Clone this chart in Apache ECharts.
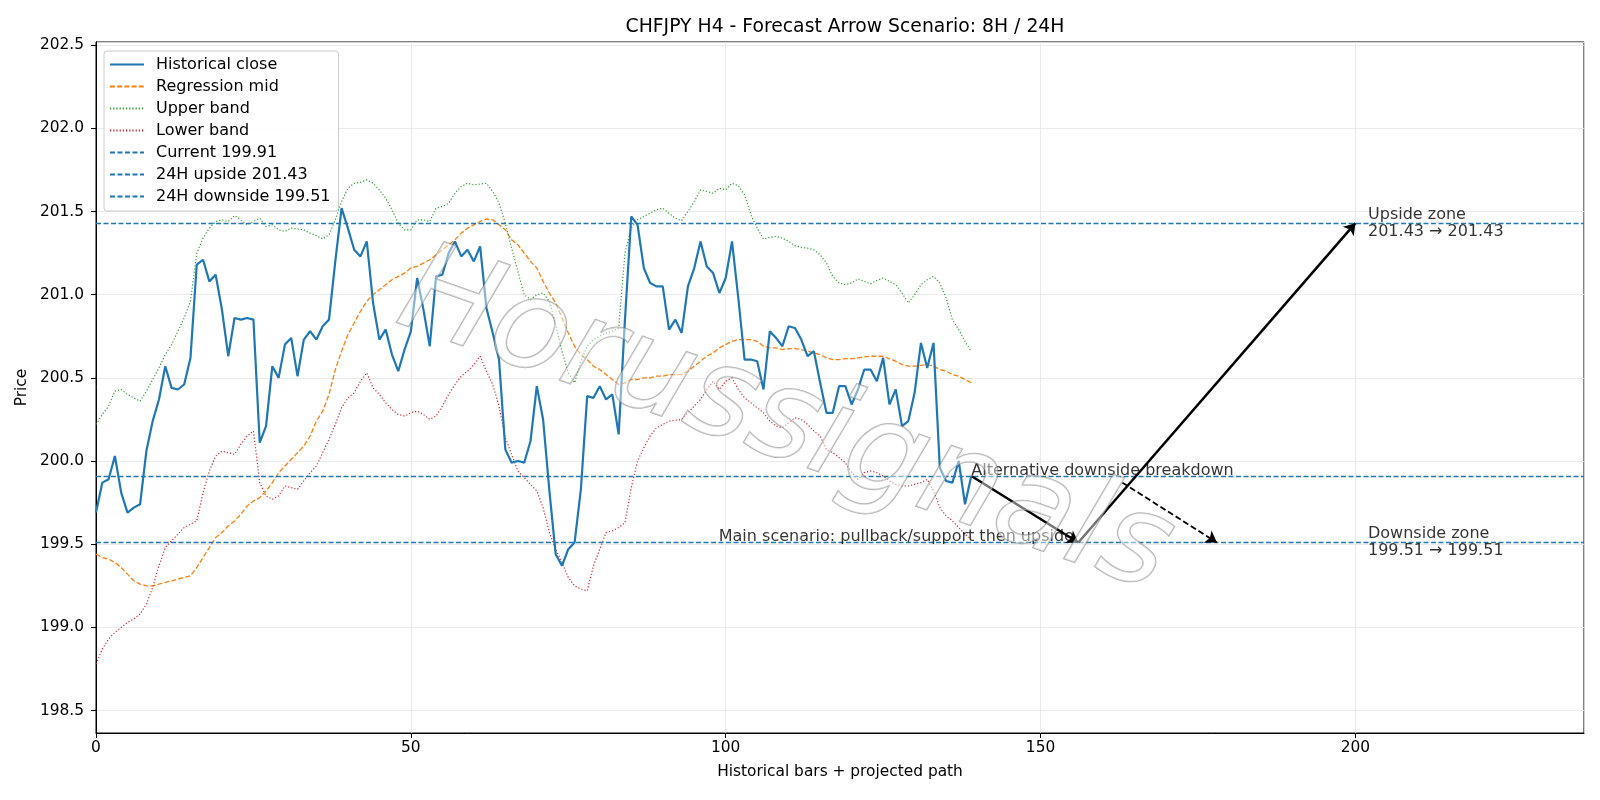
<!DOCTYPE html>
<html>
<head>
  <meta charset="utf-8" />
  <title>CHFJPY H4 - Forecast Arrow Scenario</title>
  <style>
    html, body { margin: 0; padding: 0; background: #fff; }
    #chartBox { width: 1600px; height: 800px; }
  </style>
</head>
<body>
  <div id="chartBox"></div>
  <script src="https://cdn.jsdelivr.net/npm/echarts@6/dist/echarts.min.js"></script>
  <script>
    // historical close, 140 H4 bars
    var closeArr = [
      199.69, 199.87, 199.89, 200.03, 199.81, 199.69, 199.72, 199.74, 200.06, 200.24,
      200.37, 200.57, 200.44, 200.43, 200.46, 200.62, 201.18, 201.21, 201.08, 201.12,
      200.91, 200.63, 200.86, 200.85, 200.86, 200.85, 200.11, 200.21, 200.57, 200.50,
      200.70, 200.74, 200.51, 200.73, 200.78, 200.73, 200.81, 200.85, 201.20, 201.52,
      201.40, 201.27, 201.23, 201.32, 200.95, 200.73, 200.79, 200.64, 200.54, 200.67,
      200.78, 201.10, 200.91, 200.69, 201.11, 201.12, 201.25, 201.32, 201.23, 201.27,
      201.20, 201.29, 200.92, 200.77, 200.61, 200.07, 199.99, 200.00, 199.99, 200.12,
      200.45, 200.25, 199.82, 199.44, 199.37, 199.47, 199.51, 199.83, 200.39, 200.38,
      200.45, 200.37, 200.40, 200.16, 200.85, 201.47, 201.42, 201.16, 201.07, 201.05,
      201.05, 200.79, 200.85, 200.77, 201.05, 201.16, 201.32, 201.17, 201.13, 201.01,
      201.10, 201.32, 200.98, 200.61, 200.61, 200.60, 200.43, 200.78, 200.74, 200.69,
      200.81, 200.80, 200.73, 200.63, 200.66, 200.47, 200.29, 200.29, 200.45, 200.45,
      200.34, 200.43, 200.55, 200.55, 200.48, 200.62, 200.34, 200.43, 200.21, 200.24,
      200.41, 200.71, 200.56, 200.71, 199.96, 199.88, 199.87, 200.00, 199.74, 199.91
    ];
    var midArr = [
      199.44, 199.42, 199.41, 199.39, 199.36, 199.32, 199.28, 199.26, 199.25, 199.25,
      199.26, 199.27, 199.28, 199.29, 199.30, 199.31, 199.36, 199.42, 199.48, 199.54,
      199.57, 199.61, 199.64, 199.68, 199.73, 199.76, 199.78, 199.82, 199.87, 199.93,
      199.97, 200.01, 200.05, 200.09, 200.15, 200.24, 200.30, 200.40, 200.55, 200.66,
      200.76, 200.83, 200.90, 200.96, 201.00, 201.03, 201.06, 201.09, 201.11, 201.13,
      201.16, 201.17, 201.19, 201.21, 201.24, 201.27, 201.30, 201.33, 201.37, 201.40,
      201.42, 201.44, 201.455, 201.45, 201.42, 201.39, 201.33, 201.30, 201.25, 201.20,
      201.16, 201.08, 201.01, 200.95, 200.86, 200.77, 200.69, 200.64, 200.61, 200.57,
      200.55, 200.52, 200.49, 200.46, 200.47, 200.49, 200.49, 200.50, 200.50, 200.51,
      200.51, 200.52, 200.52, 200.52, 200.54, 200.57, 200.60, 200.63, 200.65, 200.68,
      200.70, 200.72, 200.73, 200.73, 200.73, 200.72, 200.69, 200.68, 200.68, 200.67,
      200.675, 200.676, 200.67, 200.66, 200.65, 200.64, 200.62, 200.61, 200.61, 200.615,
      200.615, 200.62, 200.626, 200.63, 200.63, 200.63, 200.614, 200.60, 200.58, 200.57,
      200.57, 200.575, 200.58, 200.57, 200.55, 200.54, 200.52, 200.51, 200.49, 200.47
    ];
    var upperArr = [
      200.22, 200.28, 200.33, 200.42, 200.43, 200.40, 200.38, 200.36, 200.42, 200.49,
      200.56, 200.64, 200.70, 200.78, 200.86, 200.96, 201.25, 201.34, 201.40, 201.44,
      201.45, 201.44, 201.475, 201.45, 201.42, 201.44, 201.46, 201.41, 201.42, 201.39,
      201.38, 201.40, 201.395, 201.39, 201.37, 201.355, 201.335, 201.36, 201.45, 201.56,
      201.64, 201.67, 201.675, 201.69, 201.67, 201.63, 201.58, 201.51, 201.43, 201.39,
      201.39, 201.45, 201.45, 201.44, 201.52, 201.53, 201.55, 201.61, 201.65, 201.67,
      201.66, 201.665, 201.67, 201.62, 201.55, 201.43, 201.28, 201.14, 201.00, 200.97,
      201.00, 201.01, 200.96, 200.82, 200.66, 200.53, 200.47, 200.60, 200.69, 200.73,
      200.75, 200.77, 200.78, 200.80, 201.25, 201.40, 201.45, 201.47, 201.49, 201.51,
      201.52, 201.49, 201.46, 201.445, 201.50, 201.56, 201.63, 201.62, 201.61, 201.64,
      201.63, 201.67, 201.655, 201.60, 201.48, 201.40, 201.334, 201.345, 201.35, 201.34,
      201.32, 201.295, 201.285, 201.28, 201.27, 201.24, 201.19, 201.11, 201.07, 201.06,
      201.07, 201.095, 201.08, 201.066, 201.085, 201.10, 201.08, 201.06, 201.01, 200.95,
      201.00, 201.06, 201.09, 201.11, 201.07, 200.98, 200.85, 200.79, 200.72, 200.66
    ];
    var lowerArr = [
      198.78, 198.87, 198.93, 198.97, 199.00, 199.03, 199.05, 199.08, 199.14, 199.24,
      199.37, 199.48, 199.52, 199.56, 199.60, 199.62, 199.64, 199.81, 199.94, 200.03,
      200.06, 200.05, 200.04, 200.10, 200.15, 200.18, 199.87, 199.79, 199.77, 199.79,
      199.85, 199.84, 199.83, 199.88, 199.93, 199.97, 200.05, 200.13, 200.22, 200.32,
      200.38, 200.41, 200.48, 200.53, 200.44, 200.40, 200.35, 200.31, 200.28, 200.27,
      200.29, 200.30, 200.28, 200.25, 200.27, 200.33, 200.40, 200.46, 200.51, 200.54,
      200.58, 200.63, 200.54, 200.46, 200.33, 200.14, 200.04, 199.94, 199.90, 199.86,
      199.82, 199.72, 199.57, 199.47, 199.39, 199.30, 199.25, 199.23, 199.22, 199.37,
      199.47, 199.57, 199.58, 199.60, 199.63, 199.84, 200.00, 200.08, 200.15, 200.20,
      200.22, 200.24, 200.245, 200.25, 200.29, 200.33, 200.37, 200.43, 200.48, 200.43,
      200.48, 200.50, 200.43, 200.38, 200.35, 200.32, 200.29, 200.24, 200.21, 200.20,
      200.23, 200.26, 200.25, 200.22, 200.18, 200.15, 200.07, 200.05, 200.02, 199.99,
      199.93, 199.89, 199.93, 199.94, 199.93, 199.91, 199.88, 199.86, 199.85, 199.85,
      199.86, 199.87, 199.89, 199.82, 199.72, 199.67, 199.64, 199.60, 199.56, 199.53
    ];

    // reference levels
    var levelNames = ['Current 199.91', '24H upside 201.43', '24H downside 199.51'];
    var levelValues = [199.91, 201.43, 199.51];

    // projected paths [bar, price]
    var mainPath = [[139, 199.91], [156, 199.51], [200, 201.43]];
    var altPath = [[163, 199.87], [178, 199.51]];

    // annotations [bar, price]
    var noteTexts = [
      'Alternative downside breakdown',
      'Main scenario: pullback/support then upside',
      'Upside zone\n201.43 \u2192 201.43',
      'Downside zone\n199.51 \u2192 199.51'
    ];
    var notePoints = [[139, 199.91], [155.3, 199.51], [202, 201.43], [202, 199.51]];

    var xRange = [0, 236.3];
    var yRange = [198.365, 202.519];

    var _font = 'DejaVu Sans';
    var _fontSize = 15.4;
    var _textSize = 16;
    var _levelColor = '#1f77b4';

    function toPairs(arr) {
      var sb = [];
      for (var i = 0; i < arr.length; i++) {
        sb.push([i, arr[i]]);
      }
      return sb;
    }

    function levelSeries(i) {
      return {
        name: levelNames[i],
        type: 'line',
        symbol: 'none',
        data: [],
        lineStyle: { color: _levelColor, width: 1.3, type: [5, 2.5] },
        itemStyle: { color: _levelColor },
        markLine: {
          silent: true,
          symbol: 'none',
          label: { show: false },
          lineStyle: { color: _levelColor, width: 1.3, type: [5, 2.5] },
          data: [{ yAxis: levelValues[i] }]
        },
        z: 3
      };
    }

    function pathLines(path, style) {
      var res = [];
      for (var i = 0; i < path.length - 1; i++) {
        res.push([
          { coord: path[i], lineStyle: style },
          { coord: path[i + 1] }
        ]);
      }
      return res;
    }

    function noteData() {
      var aligns = [['left', 'bottom'], ['right', 'bottom'], ['left', 'middle'], ['left', 'middle']];
      var sb = [];
      for (var i = 0; i < noteTexts.length; i++) {
        sb.push({
          value: notePoints[i],
          label: {
            show: true,
            position: [0, 0],
            formatter: noteTexts[i],
            color: '#000',
            textBorderWidth: 0,
            fontFamily: _font,
            fontSize: _textSize,
            lineHeight: 17,
            align: aligns[i][0],
            verticalAlign: aligns[i][1],
            offset: aligns[i][1] === 'bottom' ? [0, 3] : [0, 0]
          }
        });
      }
      return sb;
    }

    var myChart = echarts.init(document.getElementById('chartBox'));
    var option = {
      animation: false,
      backgroundColor: '#fff',
      textStyle: { fontFamily: _font },
      title: {
        text: 'CHFJPY H4 - Forecast Arrow Scenario: 8H / 24H',
        left: 840,
        textAlign: 'center',
        top: 13,
        textStyle: { fontFamily: _font, fontSize: 18.8, fontWeight: 'normal', color: '#000' }
      },
      legend: {
        orient: 'vertical',
        left: 104,
        top: 51,
        data: ['Historical close', 'Regression mid', 'Upper band', 'Lower band'].concat(levelNames),
        itemWidth: 34,
        itemHeight: 14,
        itemGap: 5,
        padding: [5, 8, 6, 5],
        itemStyle: { opacity: 0, borderWidth: 0 },
        backgroundColor: 'rgba(255,255,255,0.85)',
        borderColor: '#cccccc',
        borderWidth: 1,
        borderRadius: 3,
        textStyle: { fontFamily: _font, fontSize: _textSize, lineHeight: 17, color: '#000', padding: [0, 0, 0, 7] }
      },
      grid: {
        left: 96,
        right: 16,
        top: 42,
        bottom: 67,
        show: true,
        borderColor: '#000',
        borderWidth: 1
      },
      xAxis: {
        type: 'value',
        min: xRange[0],
        max: xRange[1],
        splitNumber: 5,
        name: 'Historical bars + projected path',
        nameLocation: 'middle',
        nameGap: 31,
        nameTextStyle: { fontFamily: _font, fontSize: _fontSize, color: '#000' },
        axisLine: { show: true, lineStyle: { color: '#000', width: 1 } },
        axisTick: { show: true, inside: false, length: 5, lineStyle: { color: '#000' } },
        axisLabel: { color: '#000', fontSize: _fontSize, fontFamily: _font, margin: 7, showMaxLabel: false },
        splitLine: { show: true, lineStyle: { color: '#e6e6e6', width: 0.8 } }
      },
      yAxis: {
        type: 'value',
        min: yRange[0],
        max: yRange[1],
        splitNumber: 8,
        name: 'Price',
        nameLocation: 'middle',
        nameGap: 53,
        nameTextStyle: { fontFamily: _font, fontSize: _fontSize, color: '#000' },
        axisLine: { show: true, lineStyle: { color: '#000', width: 1 } },
        axisTick: { show: true, inside: false, length: 5, lineStyle: { color: '#000' } },
        axisLabel: {
          color: '#000', fontSize: _fontSize, fontFamily: _font, margin: 12,
          showMinLabel: false, showMaxLabel: false,
          formatter: function (v) { return v.toFixed(1); }
        },
        splitLine: { show: true, lineStyle: { color: '#e6e6e6', width: 0.8 } }
      },
      graphic: [
        {
          type: 'text',
          x: 785,
          y: 425,
          rotation: -0.34,
          z: 100,
          silent: true,
          style: {
            text: 'Horussignals',
            font: 'italic 126px "DejaVu Sans"',
            align: 'center',
            verticalAlign: 'middle',
            fill: 'rgba(255,255,255,0.45)',
            stroke: 'rgba(115,115,115,0.55)',
            lineWidth: 1.6,
            shadowColor: 'rgba(0,0,0,0.25)',
            shadowBlur: 2,
            shadowOffsetX: -3,
            shadowOffsetY: 3
          }
        }
      ],
      series: [
        {
          name: 'Historical close',
          type: 'line',
          symbol: 'none',
          data: toPairs(closeArr),
          lineStyle: { color: '#1f77b4', width: 2.2 },
          itemStyle: { color: '#1f77b4' },
          z: 5
        },
        {
          name: 'Regression mid',
          type: 'line',
          symbol: 'none',
          data: toPairs(midArr),
          lineStyle: { color: '#ff7f0e', width: 1.3, type: [5, 2.2] },
          itemStyle: { color: '#ff7f0e' },
          z: 4
        },
        {
          name: 'Upper band',
          type: 'line',
          symbol: 'none',
          data: toPairs(upperArr),
          lineStyle: { color: '#2ca02c', width: 1.2, type: [1.2, 2] },
          itemStyle: { color: '#2ca02c' },
          z: 4
        },
        {
          name: 'Lower band',
          type: 'line',
          symbol: 'none',
          data: toPairs(lowerArr),
          lineStyle: { color: '#d62728', width: 1.2, type: [1.2, 2] },
          itemStyle: { color: '#d62728' },
          z: 4
        },
        levelSeries(0),
        levelSeries(1),
        levelSeries(2),
        {
          name: 'paths',
          type: 'line',
          symbol: 'none',
          data: [],
          markLine: {
            silent: true,
            symbol: ['none', 'arrow'],
            symbolSize: 11,
            label: { show: false },
            lineStyle: { color: '#000', width: 2.5, type: 'solid' },
            data: pathLines(mainPath, { color: '#000', width: 2.5, type: 'solid' })
              .concat(pathLines(altPath, { color: '#000', width: 1.8, type: [6, 3] }))
          },
          z: 6
        },
        {
          name: 'notes',
          type: 'scatter',
          symbolSize: 0,
          silent: true,
          data: noteData(),
          z: 7
        }
      ]
    };
    myChart.setOption(option);
  </script>
</body>
</html>
